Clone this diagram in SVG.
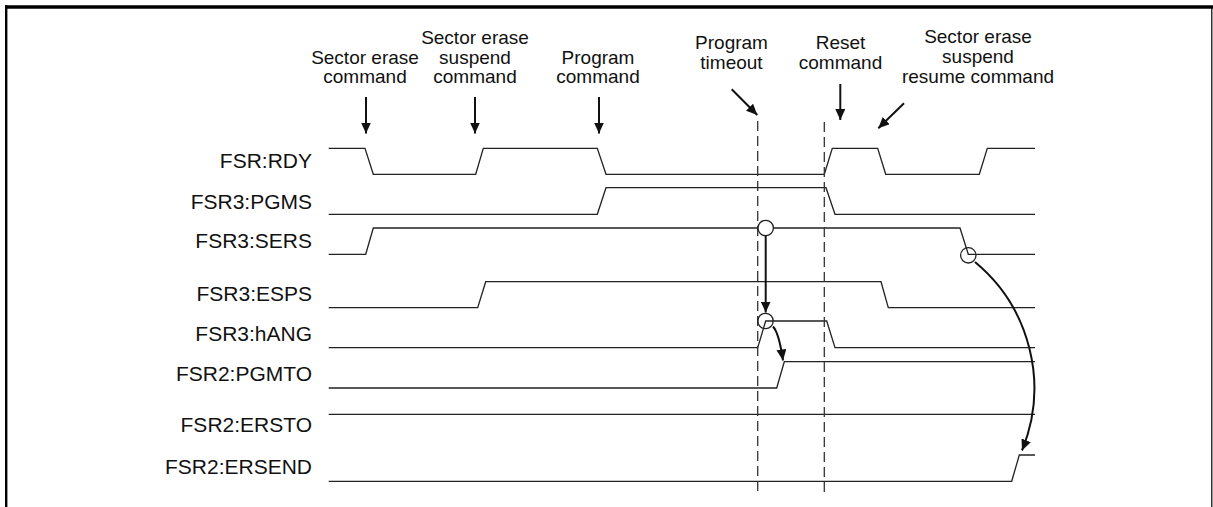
<svg xmlns="http://www.w3.org/2000/svg" width="1213" height="507" viewBox="0 0 1213 507">
<style>
  .lbl { font-family: "Liberation Sans", Arial, Helvetica, sans-serif; font-size: 19px; fill: #111; }
  .sl { font-family: "Liberation Sans", Arial, Helvetica, sans-serif; font-size: 20px; fill: #111; }
  .sig { fill: none; stroke: #222; stroke-width: 1.3; }
  .dash { fill: none; stroke: #333; stroke-width: 1.3; stroke-dasharray: 10 5; }
  .arr { fill: none; stroke: #111; stroke-width: 2; marker-end: url(#ah); }
  .circ { stroke: #222; stroke-width: 1.3; }
</style>
<defs>
  <marker id="ah" markerUnits="userSpaceOnUse" markerWidth="12" markerHeight="10" refX="11" refY="5" orient="auto">
    <path d="M0,0 L11,5 L0,10 z" fill="#111"/>
  </marker>
</defs>
<rect width="1213" height="507" fill="#fff"/>
<g id="frame">
  <line x1="5" y1="7" x2="1213" y2="7" stroke="#000" stroke-width="3.4"/>
  <line x1="6.2" y1="5.3" x2="6.2" y2="507" stroke="#000" stroke-width="2.4"/>
  <line x1="1211.8" y1="7" x2="1211.8" y2="507" stroke="#000" stroke-width="1.2"/>
</g>
<g id="event-labels">
  <g id="ev-sector-erase">
    <text class="lbl" text-anchor="middle" x="365" y="63.5">Sector erase</text>
    <text class="lbl" text-anchor="middle" x="365" y="83">command</text>
  </g>
  <g id="ev-suspend">
    <text class="lbl" text-anchor="middle" x="475" y="44">Sector erase</text>
    <text class="lbl" text-anchor="middle" x="475" y="63.5">suspend</text>
    <text class="lbl" text-anchor="middle" x="475" y="83">command</text>
  </g>
  <g id="ev-program">
    <text class="lbl" text-anchor="middle" x="598" y="63.5">Program</text>
    <text class="lbl" text-anchor="middle" x="598" y="83">command</text>
  </g>
  <g id="ev-timeout">
    <text class="lbl" text-anchor="middle" x="731.5" y="49">Program</text>
    <text class="lbl" text-anchor="middle" x="731.5" y="69">timeout</text>
  </g>
  <g id="ev-reset">
    <text class="lbl" text-anchor="middle" x="840.5" y="49">Reset</text>
    <text class="lbl" text-anchor="middle" x="840.5" y="69">command</text>
  </g>
  <g id="ev-resume">
    <text class="lbl" text-anchor="middle" x="978" y="43">Sector erase</text>
    <text class="lbl" text-anchor="middle" x="978" y="63">suspend</text>
    <text class="lbl" text-anchor="middle" x="978" y="83">resume command</text>
  </g>
</g>
<g id="signal-labels">
  <text class="sl" text-anchor="end" transform="translate(312,168) scale(1.05,1)">FSR:RDY</text>
  <text class="sl" text-anchor="end" transform="translate(312,208.5) scale(1.05,1)">FSR3:PGMS</text>
  <text class="sl" text-anchor="end" transform="translate(312,248) scale(1.05,1)">FSR3:SERS</text>
  <text class="sl" text-anchor="end" transform="translate(312,301) scale(1.05,1)">FSR3:ESPS</text>
  <text class="sl" text-anchor="end" transform="translate(312,341) scale(1.05,1)">FSR3:hANG</text>
  <text class="sl" text-anchor="end" transform="translate(312,381) scale(1.05,1)">FSR2:PGMTO</text>
  <text class="sl" text-anchor="end" transform="translate(312,432) scale(1.05,1)">FSR2:ERSTO</text>
  <text class="sl" text-anchor="end" transform="translate(312,474) scale(1.05,1)">FSR2:ERSEND</text>
</g>
<g id="waveforms">
  <path id="w-rdy" class="sig" d="M328.7 148.3 H365 L373.3 174.3 H475.7 L483.3 148.3 H597.3 L606 174.3 H824.3 L832.3 148.3 H877.7 L885.7 174.3 H979.3 L987.3 148.3 H1035"/>
  <path id="w-pgms" class="sig" d="M328.7 214.3 H597.3 L606 187.7 H826 L835 214.3 H1035"/>
  <path id="w-sers" class="sig" d="M328.7 254.3 H365.7 L373.3 228 H960 L968.3 254.3 H1035"/>
  <path id="w-esps" class="sig" d="M328.7 307.7 H477.7 L485.7 281.7 H881 L888.3 307.7 H1035"/>
  <path id="w-hang" class="sig" d="M328.7 347.7 H757.7 L765.7 321 H826.7 L835 347.7 H1035"/>
  <path id="w-pgmto" class="sig" d="M328.7 388 H776.7 L784.3 361.7 H1035"/>
  <path id="w-ersto" class="sig" d="M328.7 414.3 H1035"/>
  <path id="w-ersend" class="sig" d="M328.7 481.3 H1011.7 L1019.3 455 H1035"/>
</g>
<g id="markers">
  <line class="dash" x1="757.7" y1="121" x2="757.7" y2="496"/>
  <line class="dash" x1="824.3" y1="122" x2="824.3" y2="496"/>
  <circle id="c-sers1" class="circ" cx="765.7" cy="228" r="7.7" fill="#fff"/>
  <circle id="c-hang" class="circ" cx="765.5" cy="321" r="7.7" fill="none"/>
  <circle id="c-sers2" class="circ" cx="968.3" cy="255.3" r="7.7" fill="none"/>
</g>
<g id="connectors">
  <line class="arr" x1="366" y1="97" x2="366" y2="133.5"/>
  <line class="arr" x1="475" y1="97" x2="475" y2="133.5"/>
  <line class="arr" x1="599" y1="97" x2="599" y2="133.5"/>
  <line class="arr" x1="840.3" y1="84" x2="840.3" y2="120"/>
  <line class="arr" x1="731.7" y1="89.3" x2="757.3" y2="115"/>
  <line class="arr" x1="904" y1="103.3" x2="878.3" y2="128.3"/>
  <line class="arr" x1="765.7" y1="235.7" x2="765.7" y2="312.5"/>
  <path class="arr" d="M773 326.5 Q779 333 783 360.5"/>
  <path class="arr" d="M975 262 A164 164 0 0 1 1022 450.5"/>
</g>
</svg>
